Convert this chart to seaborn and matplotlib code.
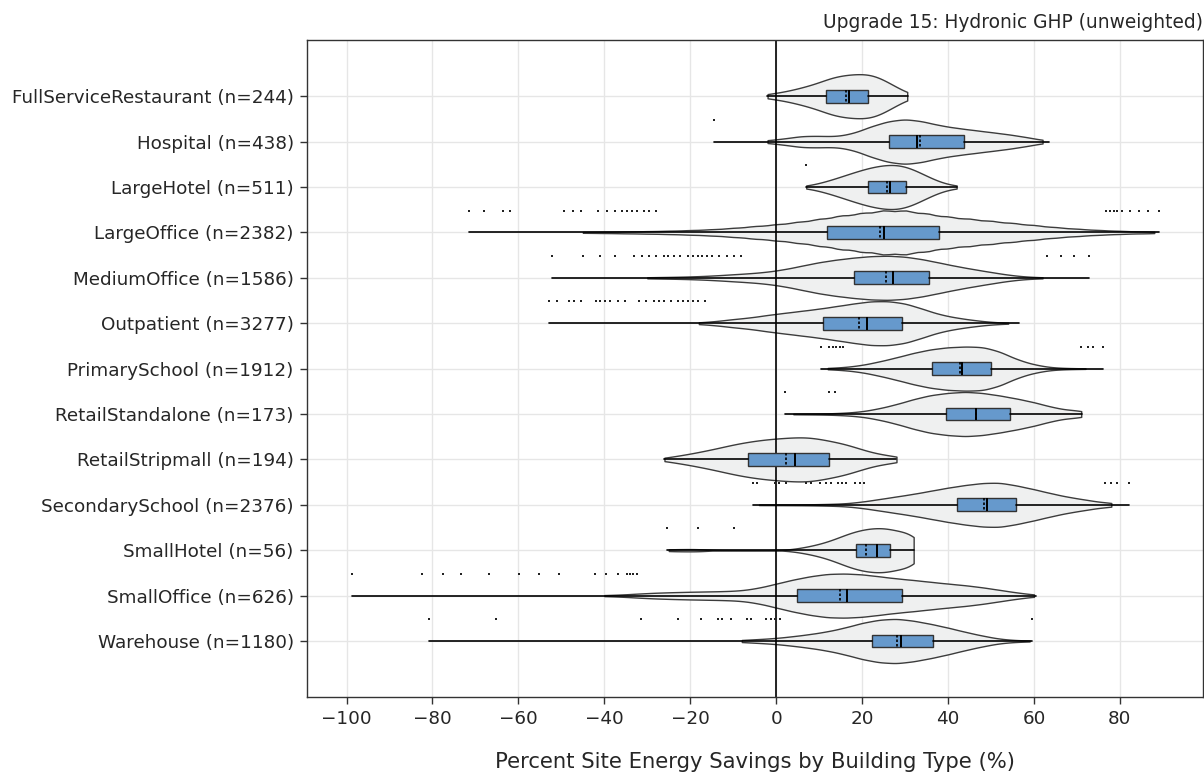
import numpy as np
import pandas as pd
import matplotlib
matplotlib.use("Agg")
import matplotlib.pyplot as plt
import seaborn as sns

# ---------------- data ----------------
categories = ["FullServiceRestaurant", "Hospital", "LargeHotel", "LargeOffice",
              "MediumOffice", "Outpatient", "PrimarySchool", "RetailStandalone",
              "RetailStripmall", "SecondarySchool", "SmallHotel", "SmallOffice",
              "Warehouse"]
counts = [244, 438, 511, 2382, 1586, 3277, 1912, 173, 194, 2376, 56, 626, 1180]

q1 = [11.7, 26.2, 21.3, 11.8, 18.2, 11.0, 36.2, 39.6, -6.5, 42.0, 18.6, 4.8, 22.4]
median = [16.9, 32.7, 26.4, 25.2, 27.2, 21.2, 43.2, 46.6, 4.3, 49.0, 23.4, 16.6, 29.0]
q3 = [21.3, 43.8, 30.3, 37.9, 35.6, 29.2, 50.1, 54.5, 12.3, 55.8, 26.5, 29.3, 36.5]
mean = [16.2, 33.4, 25.9, 24.2, 25.5, 19.2, 42.7, 46.5, 2.4, 48.3, 21.0, 14.8, 28.2]
min_val = [-2.2, -14.4, 6.9, -71.5, -52.1, -52.9, 10.5, 2.0, -26.0, -5.5, -25.5, -98.8, -80.8]
max_val = [30.6, 63.5, 42.0, 89.0, 72.8, 56.6, 76.0, 71.2, 27.8, 82.2, 32.0, 60.5, 59.6]

outliers = [
    [],
    [-14.4],
    [6.9],
    [-71.5, -68.0, -63.5, -61.9, -49.4, -47.2, -45.4, -41.5, -39.3, -37.5, -35.8,
     -34.7, -33.6, -32.4, -30.7, -29.6, -27.9,
     76.8, 77.7, 78.6, 79.4, 80.6, 82.3, 84.5, 86.6, 89.0],
    [-52.1, -44.9, -40.9, -37.5, -33.0, -31.3, -29.6, -27.9, -26.2, -25.1, -23.7,
     -22.3, -20.6, -19.4, -18.3, -17.2, -16.0, -14.9, -13.2, -11.5, -9.8, -8.1,
     63.1, 66.4, 69.3, 72.8],
    [-52.9, -51.1, -48.2, -47.1, -45.4, -42.0, -40.9, -39.8, -38.6, -36.9, -35.3,
     -31.9, -30.2, -28.5, -27.3, -26.2, -24.5, -22.8, -21.7, -20.6, -19.4, -18.3,
     -16.6],
    [10.5, 12.4, 13.2, 14.0, 14.8, 15.6, 71.0, 72.6, 73.7, 76.0],
    [2.0, 12.4, 13.6],
    [],
    [-5.5, -4.4, -0.3, 0.7, 2.3, 7.0, 8.0, 10.1, 11.7, 12.7, 14.3, 15.3, 16.3,
     18.4, 19.4, 20.5, 76.6, 78.0, 79.4, 82.2],
    [-25.5, -18.1, -9.9],
    [-98.8, -82.5, -77.6, -73.4, -66.9, -59.9, -55.2, -50.5, -42.2, -39.5, -36.9,
     -34.8, -34.1, -33.3, -32.5],
    [-80.8, -65.3, -31.5, -22.8, -17.6, -13.5, -12.7, -10.6, -6.9, -5.8, -2.3,
     -1.1, -0.3, 0.8, 59.6],
]

# violin outline: positions and relative half-widths
profile_x = [
    [-2, 1, 4, 7, 10, 13, 16, 19, 22, 25, 28, 30.5],
    [-2, 2, 6, 10, 14, 18, 22, 26, 30, 34, 38, 42, 46, 50, 54, 58, 62],
    [7, 10, 13, 16, 19, 22, 25, 28, 31, 34, 37, 40, 42],
    [-45, -40, -35, -30, -25, -20, -15, -10, -5, 0, 5, 10, 15, 20, 25, 30, 35,
     40, 45, 50, 55, 60, 65, 70, 75, 80, 85, 88],
    [-30, -26, -22, -18, -14, -10, -6, -2, 2, 6, 10, 14, 18, 22, 26, 30, 34, 38,
     42, 46, 50, 54, 58, 62],
    [-18, -14, -10, -6, -2, 2, 6, 10, 14, 18, 22, 26, 30, 34, 38, 42, 46, 50, 54],
    [12, 16, 20, 24, 28, 32, 36, 40, 44, 48, 52, 56, 60, 64, 68, 72],
    [4, 8, 12, 16, 20, 24, 28, 32, 36, 40, 44, 48, 52, 56, 60, 64, 68, 71],
    [-26, -23, -20, -17, -14, -11, -8, -5, -2, 1, 4, 7, 10, 13, 16, 19, 22, 25, 28],
    [-4, 0, 4, 8, 12, 16, 20, 24, 28, 32, 36, 40, 44, 48, 52, 56, 60, 64, 68, 72,
     76, 78],
    [-25, -22, -19, -17, 4, 7, 10, 13, 16, 19, 22, 25, 28, 31, 32],
    [-40, -36, -32, -28, -24, -20, -16, -12, -8, -4, 0, 4, 8, 12, 16, 20, 24, 28,
     32, 36, 40, 44, 48, 52, 56, 60],
    [-8, -4, 0, 4, 8, 12, 16, 20, 24, 28, 32, 36, 40, 44, 48, 52, 56, 59],
]
profile_h = [
    [2, 3.5, 6, 9, 12.5, 17.5, 19.5, 20.5, 20.5, 15.5, 8, 2],
    [1.3, 3, 5.5, 5.5, 5, 8, 14.5, 19.5, 21.7, 19.5, 15.5, 13, 11, 9, 7, 4.5, 1.5],
    [1, 3.5, 7, 11, 15, 18.5, 20.7, 21.5, 18.5, 12.5, 6.5, 2, 0.7],
    [0.4, 0.6, 0.9, 1.2, 1.6, 2.2, 3, 4.3, 6, 7.7, 10, 12.8, 16, 18.5, 21, 21,
     18, 15, 13, 11, 9, 7, 5, 3.5, 2.3, 1.5, 0.8, 0.4],
    [0.6, 0.8, 1.1, 1.6, 2.4, 3.5, 4.5, 6, 8.5, 12, 15.5, 18, 20, 21.5, 22, 21,
     18.5, 15, 11.5, 8.5, 5.7, 3, 1.2, 0.5],
    [0.8, 2, 4, 5.5, 8, 10, 12, 14, 16.5, 19, 21.3, 21.5, 19.3, 14, 8.5, 5.3, 3,
     1.2, 0.4],
    [0.6, 1.5, 3.5, 7, 11, 15.5, 19, 21, 21.7, 21.5, 17, 9, 4, 1.2, 0.5, 0.3],
    [0.3, 0.4, 0.6, 1.2, 2.5, 5.5, 9.5, 14.5, 18.5, 20.5, 21.7, 20.5, 18, 15,
     11.5, 7, 3.5, 2.5],
    [1.5, 3.5, 5.5, 8, 10.5, 13.5, 16, 18, 19.5, 20.5, 21.3, 21.7, 20, 17.5, 15,
     11, 7, 4.5, 3],
    [0.3, 0.3, 0.4, 0.5, 0.8, 1.3, 3, 5.5, 8, 10.5, 13.5, 16.5, 19, 21, 21.5,
     18.5, 15, 11, 7.5, 5, 2, 1],
    [1, 1, 1, 0.7, 1, 3, 5.5, 9, 14, 18, 20, 20.7, 18, 12, 8],
    [0.5, 1, 2, 2.8, 3.3, 3.7, 4, 4.3, 5, 7.5, 11.5, 15.5, 18.7, 21, 21.3, 20.5,
     18.5, 16.5, 15, 13.2, 11.5, 10, 8, 5.5, 3, 1],
    [1, 1.8, 2.8, 4.5, 6.5, 9, 12.5, 17, 20, 21, 19, 16, 12.5, 8.5, 5, 2, 0.7, 0.3],
]

# ---------------- assemble ----------------
labels = [f"{c} (n={n})" for c, n in zip(categories, counts)]

rows = []
for lab, xs, hs in zip(labels, profile_x, profile_h):
    reps = np.round(np.asarray(hs) * 10).astype(int)
    for v in np.repeat(np.asarray(xs, float), reps):
        rows.append((lab, v))
df = pd.DataFrame(rows, columns=["label", "value"])

out_rows = []
for i, vals in enumerate(outliers):
    for v in vals:
        out_rows.append((i - 0.48, v))
df_out = pd.DataFrame(out_rows, columns=["pos", "value"])


def fixed_bw(kde):
    return 2.4 / np.std(kde.dataset, ddof=1)


sns.set_theme(style="ticks")
plt.rcParams["font.family"] = ["DejaVu Sans"]

fig, ax = plt.subplots(figsize=(12.04, 7.76), dpi=100)
fig.subplots_adjust(left=0.255, right=0.999, top=0.948, bottom=0.102)

ax.axvline(0, color="black", linewidth=1.2, zorder=1.5)

sns.violinplot(data=df, x="value", y="label", order=labels, orient="h",
               cut=0, inner=None, density_norm="width", width=0.97,
               bw_method=fixed_bw, color="#eff0f0", linecolor="#3c3c3c",
               linewidth=1.0, saturation=1, ax=ax)

stats = []
for i in range(len(categories)):
    stats.append(dict(med=median[i], q1=q1[i], q3=q3[i], whislo=min_val[i],
                      whishi=max_val[i], mean=mean[i], fliers=[]))
ax.bxp(stats, positions=list(range(len(categories))), widths=0.28,
       orientation="horizontal", patch_artist=True, showcaps=False,
       showmeans=True, meanline=True, manage_ticks=False,
       boxprops=dict(facecolor="#6699cc", edgecolor="#333333", linewidth=1.0),
       medianprops=dict(color="black", linewidth=1.4),
       meanprops=dict(color="black", linewidth=1.2, linestyle=(0, (1.5, 1.2))),
       whiskerprops=dict(color="black", linewidth=1.2),
       zorder=3)

ax.scatter(df_out["value"], df_out["pos"], s=0.7, color="#222222", marker="s",
           linewidths=0, zorder=4)

ax.set_xlim(-109.2, 99.3)
ax.set_ylim(len(categories) - 1 + 1.23, -1.23)
ax.set_xticks([-100, -80, -60, -40, -20, 0, 20, 40, 60, 80])
ax.set_yticks(list(range(len(categories))))
ax.set_yticklabels(labels)
ax.set_axisbelow(True)
ax.grid(True, axis="both", color="#e6e6e6", linewidth=1.0)
ax.tick_params(axis="both", labelsize=13.2, length=5, width=1, color="#333333",
               pad=4.5)
ax.set_ylabel("")
ax.set_xlabel("Percent Site Energy Savings by Building Type (%)", fontsize=15.2,
              labelpad=17)
ax.set_title("Upgrade 15: Hydronic GHP (unweighted)", loc="right", fontsize=13.4,
             pad=9)
for s in ax.spines.values():
    s.set_visible(True)
    s.set_color("#333333")
    s.set_linewidth(1.0)

fig.savefig("out.png", dpi=100)
